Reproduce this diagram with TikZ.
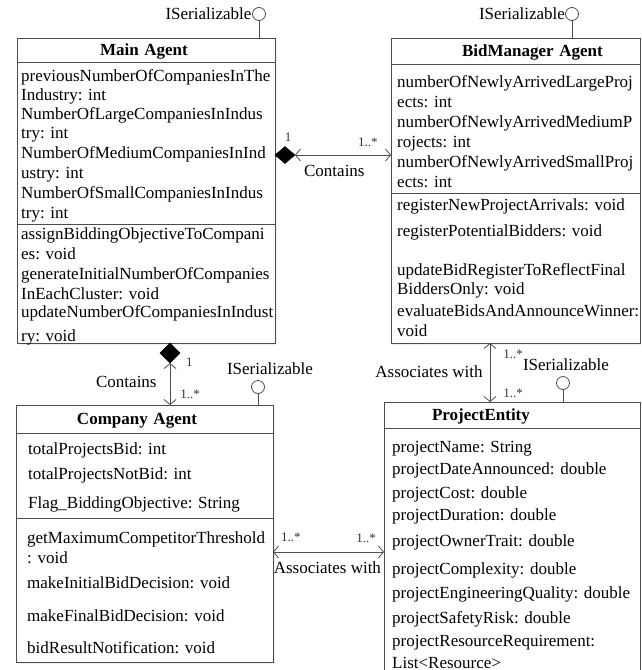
\documentclass[tikz,border=0pt]{standalone}
\usepackage{fontspec}
\setmainfont{Liberation Serif}
\usepackage{tikz}
\usetikzlibrary{positioning, shapes.geometric, arrows.meta, shadows}
\tikzstyle{classbox} = [rectangle, draw=black!70, line width=0.8pt, fill=white, inner sep=0pt, outer sep=0pt, drop shadow={opacity=0.12, shadow xshift=2pt, shadow yshift=-2pt}]
\tikzstyle{classhead} = [classbox, anchor=north west, align=left, text depth=0pt, font=\fontsize{17}{20}\selectfont\bfseries]
\tikzstyle{members} = [align=left, inner ysep=0pt, anchor=west, font=\fontsize{17}{20}\selectfont]
\tikzstyle{comp} = [diamond, draw=black, fill=black, inner sep=0pt, outer sep=0pt]
\tikzstyle{iface} = [circle, draw=black!70, line width=0.8pt, fill=white, minimum size=13pt, inner sep=0pt]
\tikzstyle{line} = [draw=black!70, line width=0.8pt]
\tikzstyle{arrow} = [line, {Straight Barb[length=5pt,width=12pt]}-{Straight Barb[length=5pt,width=12pt]}]
\tikzstyle{mult} = [font=\fontsize{13}{15}\selectfont, text=black!80, inner sep=0pt]
\tikzstyle{rel} = [font=\fontsize{17}{20}\selectfont, inner sep=0pt]

\begin{document}
\begin{tikzpicture}[x=1pt, y=-1pt, node distance=0pt]

	\useasboundingbox (0,0) rectangle (641,670);
	\clip (0,0) rectangle (641,670);

	\node (mainhead) [classhead, text width=258pt, minimum height=24pt] at (17,38) {\hspace*{83pt}Main Agent};
	\node (mainattr) [classbox, minimum width=258pt, minimum height=162pt, below=of mainhead] {};
	\node (mainops) [classbox, minimum width=258pt, minimum height=119pt, below=of mainattr] {};
	\node (mainattrtxt) [members, inner xsep=4pt, yshift=-3pt] at (mainattr.west) {previousNumberOfCompaniesInThe\\[-1pt]Industry: int\\[-1pt]NumberOfLargeCompaniesInIndus\\[-1pt]try: int\\NumberOfMediumCompaniesInInd\\ustry: int\\NumberOfSmallCompaniesInIndus\\try: int};
	\node (mainopstxt) [members, inner xsep=4pt, yshift=-3pt] at (mainops.west) {assignBiddingObjectiveToCompani\\es: void\\generateInitialNumberOfCompanies\\InEachCluster: void\\[-2pt]updateNumberOfCompaniesInIndust\\[4pt]ry: void};

	\node (bidhead) [classhead, text width=249pt, minimum height=26pt] at (391,38) {\hspace*{71pt}BidManager Agent};
	\node (bidattr) [classbox, minimum width=249pt, minimum height=129pt, below=of bidhead] {};
	\node (bidops) [classbox, minimum width=249pt, minimum height=150pt, below=of bidattr] {};
	\node (bidattrtxt) [members, inner xsep=6pt, yshift=-3pt] at (bidattr.west) {numberOfNewlyArrivedLargeProj\\ects: int\\numberOfNewlyArrivedMediumP\\rojects: int\\numberOfNewlyArrivedSmallProj\\ects: int};
	\node (bidopstxt) [members, inner xsep=6pt] at (bidops.west) {registerNewProjectArrivals: void\\[6pt]registerPotentialBidders: void\\[19pt]updateBidRegisterToReflectFinal\\[-1pt]BiddersOnly: void\\[2pt]evaluateBidsAndAnnounceWinner:\\void};

	\node (comphead) [classhead, text width=257pt, minimum height=28pt] at (16,405) {\hspace*{61pt}Company Agent};
	\node (compattr) [classbox, minimum width=257pt, minimum height=85pt, below=of comphead] {};
	\node (compops) [classbox, minimum width=257pt, minimum height=144pt, below=of compattr] {};
	\node (compattrtxt) [members, inner xsep=12pt, yshift=-2pt] at (compattr.west) {totalProjectsBid: int\\[5pt]totalProjectsNotBid: int\\[9pt]Flag\_BiddingObjective: String};
	\node (compopstxt) [members, inner xsep=11pt, yshift=-3pt] at (compops.west) {getMaximumCompetitorThreshold\\: void\\[5pt]makeInitialBidDecision: void\\[13pt]makeFinalBidDecision: void\\[12pt]bidResultNotification: void};

	\node (projhead) [classhead, text width=256pt, minimum height=26pt] at (384,402) {\hspace*{48pt}ProjectEntity};
	\node (projattr) [classbox, minimum width=256pt, minimum height=252pt, below=of projhead] {};
	\node (projattrtxt) [members, inner xsep=8pt, yshift=-1pt] at (projattr.west) {projectName: String\\[2pt]projectDateAnnounced: double\\[4pt]projectCost: double\\[2pt]projectDuration: double\\[6pt]projectOwnerTrait: double\\[8pt]projectComplexity: double\\[4pt]projectEngineeringQuality: double\\[5pt]projectSafetyRisk: double\\[3pt]projectResourceRequirement:\\[2pt]List<Resource>};

	\node (mainif) [iface, label={[rel, label distance=0.5pt]left:ISerializable}] at (259,14) {};
	\node (bidif) [iface, label={[rel, label distance=0pt]left:ISerializable}] at (572,14) {};
	\node (compif) [iface, label={[rel, label distance=5pt, xshift=12pt]above:ISerializable}] at (258,387) {};
	\node (projif) [iface, label={[rel, label distance=5pt, xshift=3pt]above:ISerializable}] at (563,383) {};

	\draw [line] (mainif) -- (mainif |- mainhead.north);
	\draw [line] (bidif) -- (bidif |- bidhead.north);
	\draw [line] (compif) -- (compif |- comphead.north);
	\draw [line] (projif) -- (projif |- projhead.north);

	\node (diabid) [comp, minimum width=20pt, minimum height=17pt, anchor=west, label={[mult, label distance=5pt, xshift=3pt]above:1}] at (275,155) {};
	\node (diacomp) [comp, minimum width=20pt, minimum height=20pt, anchor=north, label={[mult, label distance=6pt, yshift=-9pt]right:1}] at ([xshift=24pt]mainops.south) {};

	\draw [arrow] (diabid.east) -- node[mult, pos=0.76, above=8pt] {1..*} node[rel, pos=0.41, below=10pt] {Contains} (diabid.east -| bidattr.west);
	\draw [arrow] (diacomp.south) -- node[rel, pos=0.45, left=13pt] {Contains} node[mult, pos=0.74, right=10pt] {1..*} (diacomp.south |- comphead.north);
	\draw [arrow] ([yshift=2pt]projattr.west -| compops.east) -- node[mult, pos=0.16, above=10pt] {1..*} node[mult, pos=0.84, above=9pt] {1..*} node[rel, pos=0.49, below=9pt] {Associates with} ([yshift=2pt]projattr.west);
	\draw [arrow] ([xshift=-25.5pt]bidops.south) -- node[rel, pos=0.49, left=7pt] {Associates with} node[mult, pos=0.19, right=13pt] {1..*} node[mult, pos=0.86, right=13pt] {1..*} ([xshift=-25.5pt]bidops.south |- projhead.north);

\end{tikzpicture}
\end{document}
